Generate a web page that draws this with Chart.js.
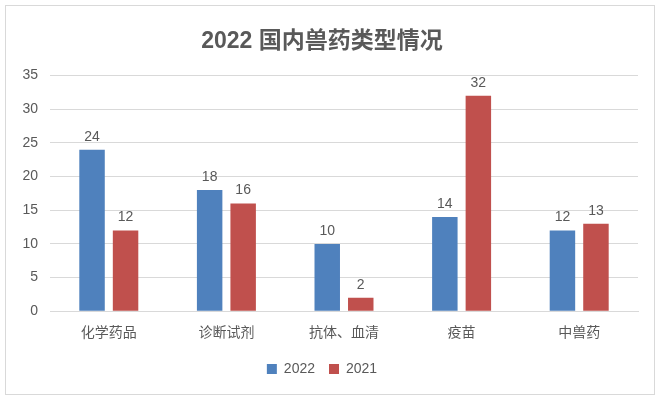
<!DOCTYPE html>
<html><head><meta charset="utf-8">
<script src="https://cdn.jsdelivr.net/npm/chart.js@4"></script>
<style>
html,body{margin:0;padding:0;background:#fff;}
#wrap{position:absolute;left:5px;top:5px;width:648px;height:388px;border:1px solid #d9d9d9;}
canvas{display:block;}
</style></head>
<body>
<div id="wrap"><canvas id="c" width="648" height="388"></canvas></div>
<script>
const categories = ['化学药品', '诊断试剂', '抗体、血清', '疫苗', '中兽药'];
const values2022 = [24, 18, 10, 14, 12];
const values2021 = [12, 16, 2, 32, 13];
const yTicks = [0, 5, 10, 15, 20, 25, 30, 35];

const FONT = "'Liberation Sans', 'Noto Sans CJK SC', sans-serif";
const TXT = '#595959';

const labelPlugin = {
  id: 'barLabels',
  afterDatasetsDraw(chart) {
    const ctx = chart.ctx;
    ctx.save();
    ctx.font = '14px ' + FONT;
    ctx.fillStyle = TXT;
    ctx.textAlign = 'center';
    ctx.textBaseline = 'bottom';
    chart.data.datasets.forEach((ds, i) => {
      chart.getDatasetMeta(i).data.forEach((bar, j) => {
        ctx.fillText(String(ds.data[j]), bar.x, bar.y - 6);
      });
    });
    ctx.restore();
  }
};

new Chart(document.getElementById('c'), {
  type: 'bar',
  data: {
    labels: categories,
    datasets: [
      { label: '2022', data: values2022, backgroundColor: '#4F81BD', categoryPercentage: 0.57, barPercentage: 0.76 },
      { label: '2021', data: values2021, backgroundColor: '#C0504D', categoryPercentage: 0.57, barPercentage: 0.76 }
    ]
  },
  options: {
    responsive: false,
    animation: false,
    devicePixelRatio: 1,
    layout: { padding: { left: 0, right: 16, top: 0, bottom: 8 } },
    plugins: {
      title: {
        display: true,
        text: '2022 国内兽药类型情况',
        color: TXT,
        font: { family: FONT, size: 23, weight: 'bold' },
        padding: { top: 22, bottom: 20 }
      },
      legend: {
        position: 'bottom',
        labels: { color: TXT, font: { family: FONT, size: 14 }, boxWidth: 10, boxHeight: 10, padding: 14 }
      },
      tooltip: { enabled: false }
    },
    scales: {
      x: {
        grid: { display: false },
        border: { color: '#d9d9d9' },
        ticks: { color: TXT, font: { family: FONT, size: 14 }, padding: 6 }
      },
      y: {
        min: 0, max: 35,
        afterFit(scale) { scale.width = 44; },
        afterBuildTicks(scale) { scale.ticks = yTicks.map(v => ({ value: v })); },
        grid: { color: '#d9d9d9', drawTicks: false },
        border: { display: false },
        ticks: { color: TXT, font: { family: FONT, size: 14 }, padding: 12 }
      }
    }
  },
  plugins: [labelPlugin]
});
</script>
</body></html>
